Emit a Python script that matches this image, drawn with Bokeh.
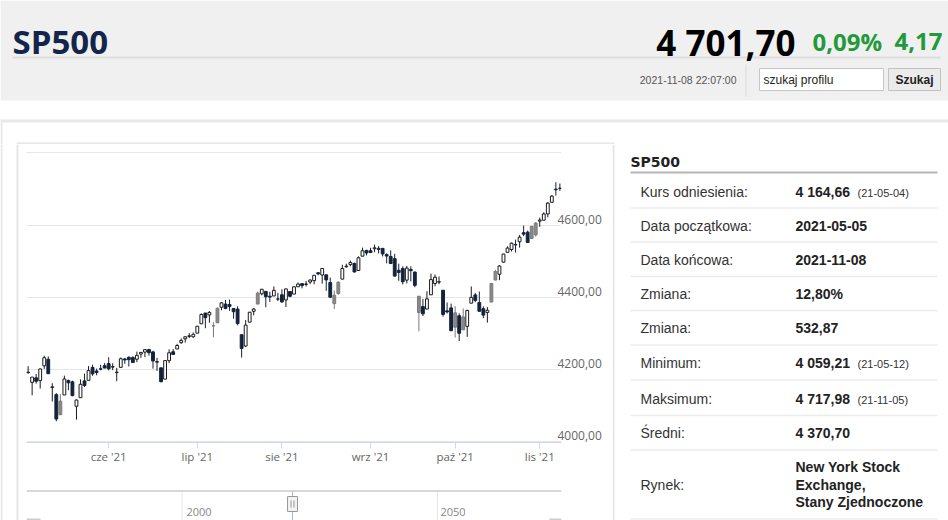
import pandas as pd
from bokeh.plotting import figure
from bokeh.layouts import column, row
from bokeh.models import (Range1d, LinearAxis, FixedTicker, Grid, ColumnDataSource)
from bokeh.core.properties import value
from bokeh.embed import file_html
from bokeh.resources import INLINE

# ---------------- data ----------------
holidays = ["2021-05-31", "2021-07-05", "2021-09-06"]
dates = [d for d in pd.bdate_range("2021-05-03", "2021-11-08")
         if d.strftime("%Y-%m-%d") not in holidays]

opens = [4191.98, 4179.04, 4177.06, 4169.14, 4210.34, 4228.29, 4150.34, 4130.55, 4074.99, 4129.58,
         4169.92, 4165.94, 4098.45, 4121.97, 4168.61, 4170.16, 4205.94, 4191.59, 4201.94, 4210.77,
         4216.52, 4206.82, 4191.43, 4206.05, 4229.34, 4233.81, 4232.99, 4228.56, 4242.90, 4248.31,
         4255.28, 4248.87, 4220.37, 4204.78, 4173.40, 4224.61, 4249.27, 4256.97, 4274.45, 4284.90,
         4293.21, 4290.65, 4300.73, 4326.60, 4356.46, 4351.01, 4321.07, 4329.38, 4372.41, 4381.07,
         4380.11, 4369.02, 4367.43, 4296.40, 4265.11, 4331.13, 4361.27, 4381.20, 4409.58, 4416.38,
         4402.95, 4403.59, 4395.12, 4406.86, 4392.74, 4415.95, 4408.86, 4429.07, 4437.77, 4435.79,
         4442.18, 4446.08, 4464.84, 4461.65, 4462.12, 4440.94, 4382.44, 4410.56, 4450.29, 4484.40,
         4490.45, 4493.75, 4474.10, 4513.76, 4529.75, 4528.80, 4534.48, 4532.42, 4535.38, 4518.09,
         4513.02, 4506.92, 4474.81, 4479.33, 4447.49, 4477.09, 4469.74, 4402.95, 4374.45, 4367.43,
         4406.75, 4438.04, 4442.12, 4419.54, 4362.41, 4370.67, 4317.16, 4348.84, 4309.87, 4319.57,
         4383.73, 4406.51, 4385.44, 4368.31, 4358.01, 4386.75, 4447.69, 4463.72, 4497.34, 4524.42,
         4532.24, 4546.12, 4553.69, 4578.69, 4580.22, 4562.84, 4572.87, 4610.62, 4613.34, 4630.65,
         4662.93, 4699.26, 4701.48]
highs = [4209.39, 4179.04, 4187.72, 4202.70, 4238.04, 4236.39, 4162.04, 4134.73, 4131.58, 4183.13,
         4171.92, 4169.15, 4116.93, 4172.80, 4188.72, 4209.52, 4213.42, 4202.61, 4213.38, 4218.36,
         4234.12, 4217.37, 4204.39, 4233.45, 4232.34, 4236.74, 4237.09, 4249.74, 4248.38, 4255.59,
         4257.16, 4251.89, 4232.29, 4204.78, 4226.24, 4255.84, 4256.60, 4271.28, 4286.12, 4292.14,
         4300.52, 4302.43, 4320.66, 4355.43, 4356.46, 4361.88, 4330.88, 4371.60, 4386.68, 4392.37,
         4393.68, 4369.02, 4375.09, 4296.40, 4336.84, 4359.70, 4369.87, 4415.18, 4422.73, 4416.38,
         4415.47, 4429.97, 4412.25, 4422.18, 4423.79, 4416.17, 4429.76, 4440.82, 4439.39, 4445.21,
         4449.44, 4461.77, 4468.37, 4480.26, 4462.12, 4454.32, 4418.61, 4444.35, 4489.88, 4492.81,
         4501.71, 4495.90, 4513.33, 4537.36, 4531.39, 4537.11, 4545.85, 4541.45, 4535.38, 4521.79,
         4529.90, 4520.47, 4492.99, 4485.68, 4486.87, 4485.87, 4471.52, 4402.95, 4394.87, 4416.75,
         4465.40, 4463.12, 4457.30, 4419.54, 4385.57, 4382.55, 4375.19, 4355.51, 4369.23, 4365.57,
         4429.97, 4412.02, 4415.88, 4374.89, 4372.87, 4439.73, 4475.82, 4488.75, 4520.40, 4540.87,
         4551.44, 4559.67, 4572.62, 4598.53, 4584.57, 4597.55, 4608.08, 4620.34, 4635.15, 4663.46,
         4683.00, 4718.50, 4714.92]
lows = [4188.03, 4128.59, 4160.94, 4147.33, 4201.64, 4188.13, 4111.53, 4056.88, 4074.99, 4129.58,
        4142.69, 4125.99, 4061.41, 4121.97, 4151.72, 4170.16, 4182.52, 4184.11, 4197.78, 4203.57,
        4197.59, 4198.27, 4167.93, 4206.05, 4215.66, 4208.41, 4218.74, 4220.34, 4232.25, 4234.08,
        4238.35, 4202.45, 4196.05, 4164.40, 4173.40, 4217.27, 4241.43, 4256.97, 4271.16, 4274.67,
        4287.04, 4287.96, 4300.73, 4326.60, 4314.37, 4329.79, 4289.37, 4329.38, 4364.03, 4366.92,
        4362.36, 4340.70, 4322.53, 4233.13, 4262.05, 4331.13, 4350.06, 4381.20, 4405.45, 4372.51,
        4387.01, 4403.59, 4389.65, 4384.81, 4373.00, 4400.23, 4408.86, 4429.07, 4424.74, 4430.03,
        4436.42, 4435.96, 4460.82, 4437.66, 4417.83, 4397.59, 4367.73, 4406.80, 4450.29, 4482.28,
        4485.66, 4468.99, 4474.10, 4513.76, 4515.80, 4522.02, 4524.66, 4521.30, 4513.00, 4493.95,
        4492.07, 4457.66, 4445.70, 4435.46, 4438.37, 4443.80, 4427.76, 4305.91, 4347.96, 4367.43,
        4406.75, 4430.27, 4436.19, 4346.33, 4355.08, 4306.24, 4288.52, 4278.94, 4309.87, 4290.49,
        4383.73, 4386.22, 4360.59, 4342.09, 4329.92, 4386.75, 4447.69, 4447.47, 4496.41, 4524.40,
        4526.89, 4524.00, 4537.36, 4569.17, 4551.66, 4562.84, 4567.59, 4595.06, 4613.34, 4621.19,
        4662.59, 4681.32, 4694.39]
closes = [4192.66, 4164.66, 4167.59, 4201.62, 4232.60, 4188.43, 4152.10, 4063.04, 4112.50, 4173.85,
          4163.29, 4127.83, 4115.68, 4159.12, 4155.86, 4197.05, 4188.13, 4195.99, 4200.88, 4204.11,
          4202.04, 4208.12, 4192.85, 4229.89, 4226.52, 4227.26, 4219.55, 4239.18, 4247.44, 4255.15,
          4246.59, 4223.70, 4221.86, 4166.45, 4224.79, 4246.44, 4241.84, 4266.49, 4280.70, 4290.61,
          4291.80, 4297.50, 4319.94, 4352.34, 4343.54, 4358.13, 4320.82, 4369.55, 4384.63, 4369.21,
          4374.30, 4360.03, 4327.16, 4258.49, 4323.06, 4358.69, 4367.48, 4411.79, 4422.30, 4401.46,
          4400.64, 4419.15, 4395.26, 4387.16, 4423.15, 4402.66, 4429.10, 4436.52, 4432.35, 4436.75,
          4447.70, 4460.83, 4468.00, 4479.71, 4448.08, 4400.27, 4405.80, 4441.67, 4479.53, 4486.23,
          4496.19, 4470.00, 4509.37, 4528.79, 4522.68, 4524.09, 4536.95, 4535.43, 4520.03, 4514.07,
          4493.28, 4458.58, 4468.73, 4443.05, 4480.70, 4473.75, 4432.99, 4357.73, 4354.19, 4395.64,
          4448.98, 4455.48, 4443.11, 4352.63, 4359.46, 4307.54, 4357.04, 4300.46, 4345.72, 4363.55,
          4399.76, 4391.34, 4361.19, 4350.65, 4363.80, 4438.26, 4471.37, 4486.46, 4519.63, 4536.19,
          4549.78, 4544.90, 4566.48, 4574.79, 4551.68, 4596.42, 4605.38, 4613.67, 4630.65, 4660.57,
          4680.06, 4697.53, 4701.70]
# candle style: w = hollow, b = dark, g = grey
kinds = list("bwbwwbwbgwbbwwbwbbbbbwwwbbbwwwbbwbwwbwwwbwwwbwggwbbbbbwwwgwbbwwbwbwwbwwwbwbbggwwwbwwbbwwbbbbbbwbbgbwwwwbbbgbgwwbbbwggwwwwbwbbggwwwwbb")

month_labels = ["cze '21", "lip '21", "sie '21", "wrz '21", "paź '21", "lis '21"]
month_numbers = [6, 7, 8, 9, 10, 11]
price_ticks = [4000, 4200, 4400, 4600]
grid_ticks = [4000, 4200, 4400, 4600, 4800]

header_name = "SP500"
header_price = "4 701,70"
header_pct = "0,09%"
header_chg = "4,17"
header_time = "2021-11-08 22:07:00"
search_placeholder = "szukaj profilu"
search_button = "Szukaj"

table_title = "SP500"
row_labels = ["Kurs odniesienia:", "Data początkowa:", "Data końcowa:", "Zmiana:", "Zmiana:",
              "Minimum:", "Maksimum:", "Średni:"]
row_values = ["4 164,66", "2021-05-05", "2021-11-08", "12,80%", "532,87",
              "4 059,21", "4 717,98", "4 370,70"]
row_notes = ["(21-05-04)", "", "", "", "", "(21-05-12)", "(21-11-05)", ""]
market_label = "Rynek:"
market_lines = ["New York Stock", "Exchange,", "Stany Zjednoczone"]
nav_labels = ["2000", "2050"]
nav_label_pos = [186, 440]

W, H = 948, 520

# ---------------- helpers ----------------
def canvas(x0, x1, y0, y1, fx0=None, fx1=None):
    """A figure whose frame is the whole figure, in page pixels (y down)."""
    f = figure(width=x1 - x0, height=y1 - y0, output_backend="svg", toolbar_location=None,
               x_range=Range1d(fx0 if fx0 is not None else x0, fx1 if fx1 is not None else x1),
               y_range=Range1d(y1, y0),
               x_axis_location=None, y_axis_location=None,
               min_border=0, min_border_left=0, min_border_right=0,
               min_border_top=0, min_border_bottom=0)
    f.outline_line_color = None
    f.grid.visible = False
    f.background_fill_color = "white"
    f.border_fill_color = "white"
    return f

def box(f, l, r, t, b, fill="white", line=None, lw=1):
    f.quad(left=[l], right=[r], top=[t], bottom=[b], fill_color=fill,
           line_color=line, line_width=lw)

def txt(f, xs, ys, texts, size, color, font="Liberation Sans", style="normal",
        align="left", baseline="middle"):
    f.text(x=xs, y=ys, text=texts, text_font=value(font), text_font_size=value(size),
           text_font_style=style, text_color=color, text_align=align,
           text_baseline=baseline)

# ---------------- header ----------------
H_BOT = 144
hd = canvas(0, W, 0, H_BOT)
box(hd, 0, W, 0, 100, fill="#f0f0f0")
box(hd, 12, 940, 56, 58, fill="#dddddd")
box(hd, 745, 746, 64, 96, fill="#dadada")
box(hd, 759, 883, 68, 90, fill="white", line="#c6c6c6")
box(hd, 888, 940, 68, 90, fill="#ebebeb", line="#c2c2c2")
box(hd, 0, W, 119, 122, fill="#e8e8e8")
box(hd, 0, 2, 122, H_BOT, fill="#e8e8e8")
box(hd, 16, 614, 142, 144, fill="#e6e6e6")
txt(hd, [12], [41], [header_name], "33px", "#13254a", font="Open Sans", style="bold",
    baseline="alphabetic")
txt(hd, [795], [42], [header_price], "35px", "#000000", font="Open Sans", style="bold",
    align="right", baseline="alphabetic")
txt(hd, [812], [41], [header_pct], "24px", "#229a3b", font="Open Sans", style="bold",
    baseline="alphabetic")
txt(hd, [942], [41], [header_chg], "24px", "#229a3b", font="Open Sans", style="bold",
    align="right", baseline="alphabetic")
txt(hd, [736], [79], [header_time], "10.5px", "#555555", align="right")
txt(hd, [763], [79], [search_placeholder], "12px", "#222222")
txt(hd, [914], [79], [search_button], "12px", "#222222", style="bold", align="center")

# ---------------- left strip ----------------
ls = canvas(0, 26, H_BOT, H)
box(ls, 0, 2, H_BOT, H, fill="#e8e8e8")
box(ls, 16, 18, H_BOT, H, fill="#e6e6e6")

# ---------------- candlestick chart ----------------
n = len(dates)
xs = list(range(n))
month_idx = [next(i for i, d in enumerate(dates) if d.month == m) for m in month_numbers]

PX_PER_PT = 0.3613
Y4000 = 441.3
def pv(y):
    return 4000 + (Y4000 - y) / PX_PER_PT

C_L, C_R, C_T, C_B = 26, 612, H_BOT, 470
FR_R, FR_T, FR_B = 561, 150, 442
ch = figure(width=C_R - C_L, height=C_B - C_T, output_backend="svg", toolbar_location=None,
            x_range=Range1d(-0.4, 132.4), y_range=Range1d(pv(FR_B), pv(FR_T)),
            x_axis_location=None, y_axis_location=None,
            min_border_left=0, min_border_right=C_R - FR_R,
            min_border_top=FR_T - C_T, min_border_bottom=C_B - FR_B)
ch.outline_line_color = None
ch.grid.visible = False
ch.background_fill_color = "white"
ch.border_fill_color = "white"

shift = 6 / PX_PER_PT
ch.extra_y_ranges = {"lab": Range1d(pv(FR_B) - shift, pv(FR_T) - shift)}

ch.add_layout(Grid(dimension=1, ticker=FixedTicker(ticks=grid_ticks),
                   grid_line_color="#e6e6e6", grid_line_width=1))

xa = LinearAxis(ticker=FixedTicker(ticks=month_idx),
                major_label_overrides={i: t for i, t in zip(month_idx, month_labels)},
                axis_line_color="#ccd6eb", major_tick_line_color="#ccd6eb",
                major_tick_out=6, major_tick_in=0, minor_tick_line_color=None,
                major_label_text_color="#666666", major_label_text_font="Open Sans",
                major_label_text_font_size="11.5px", major_label_standoff=0)
ch.add_layout(xa, "below")

ya = LinearAxis(y_range_name="lab", ticker=FixedTicker(ticks=price_ticks),
                major_label_overrides={v: f"{v},00" for v in price_ticks},
                axis_line_color=None, major_tick_line_color=None, minor_tick_line_color=None,
                major_tick_out=0, major_tick_in=0, major_label_standoff=-4,
                major_label_text_color="#666666", major_label_text_font="Open Sans",
                major_label_text_font_size="12px")
ch.add_layout(ya, "right")

fill_map = {"w": "#ffffff", "b": "#14223a", "g": "#8a8a8a"}
line_map = {"w": "#1a1a1a", "b": "#14223a", "g": "#7a7a7a"}
src = ColumnDataSource(dict(
    x=xs, o=opens, h=highs, l=lows, c=closes,
    top=[max(a, b) for a, b in zip(opens, closes)],
    bottom=[min(a, b) for a, b in zip(opens, closes)],
    fill=[fill_map[k] for k in kinds], line=[line_map[k] for k in kinds]))
ch.segment(x0="x", y0="l", x1="x", y1="h", line_color="line", line_width=1, source=src)
ch.vbar(x="x", width=0.7, top="top", bottom="bottom", fill_color="fill",
        line_color="line", line_width=1, source=src)

# ---------------- navigator (frame is aligned with the chart frame: x 26..561) ----------------
nv = canvas(C_L, C_R, C_B, H, fx0=C_L, fx1=FR_R)
box(nv, 26, 561, 490, 491, fill="#b0b0b0")
for gx in [181.5, 437]:
    box(nv, gx - 0.5, gx + 0.5, 491, H, fill="#e6e6e6")
txt(nv, nav_label_pos, [511, 511], nav_labels, "11px", "#888888", font="Open Sans")
box(nv, 291.5, 292.5, 491, H, fill="#a8b8d0")
box(nv, 287, 297, 496, 511, fill="#f2f2f2", line="#999999")
box(nv, 290, 291, 500, 507, fill="#999999")
box(nv, 293, 294, 500, 507, fill="#999999")
box(nv, 26, 40, 518, 520, fill="#cccccc")
box(nv, 549, 561, 518, 520, fill="#cccccc")

# ---------------- info table ----------------
tb = canvas(C_R, W, H_BOT, H)
box(tb, 612, 614, H_BOT, H, fill="#e6e6e6")
txt(tb, [630], [161], [table_title], "14px", "#222222", font="DejaVu Sans", style="bold",
    baseline="alphabetic")
box(tb, 630, 937, 171, 173, fill="#b5b5b5")
row_y = [191, 225.5, 259.5, 293.5, 327.5, 362.5, 398, 432.5]
txt(tb, [640] * len(row_labels), row_y, row_labels, "14px", "#333333")
txt(tb, [795] * len(row_values), row_y, row_values, "14px", "#222222", style="bold")
note_y = [y + 1 for y, t in zip(row_y, row_notes) if t]
notes = [t for t in row_notes if t]
txt(tb, [857] * len(notes), note_y, notes, "11px", "#333333")
txt(tb, [640], [484], [market_label], "14px", "#333333")
txt(tb, [795] * 3, [466.5, 484, 501.5], market_lines, "14px", "#222222", style="bold")
for y in [207.5, 241.5, 276, 310, 344.5, 379.5, 415, 449.5, 518.5]:
    box(tb, 630, 937, y - 0.75, y + 0.75, fill="#ececec")

layout = column(hd, row(ls, column(ch, nv), tb))
open("out.html", "w").write(file_html(layout, INLINE))
